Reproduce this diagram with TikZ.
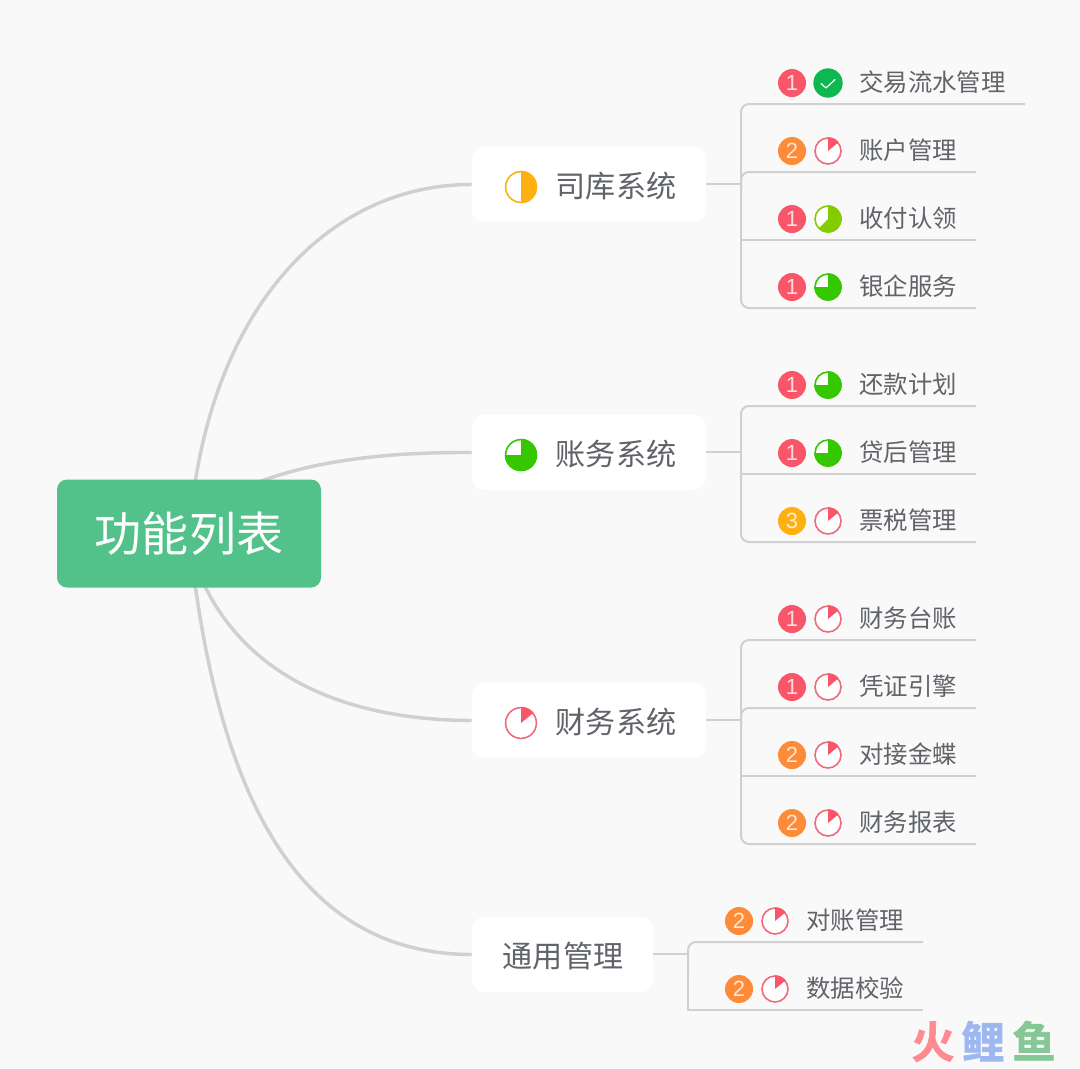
\documentclass[tikz,border=0pt]{standalone}
\usepackage{fontspec}
\setmainfont{Liberation Sans}
\newfontfamily\cjk{Noto Sans CJK SC}
\newfontfamily\cjkb[FakeBold=1.5]{Noto Sans CJK SC Bold}
\definecolor{bgc}{HTML}{F9F9F9}
\definecolor{linec}{HTML}{D0D0D0}
\definecolor{txtc}{HTML}{606368}
\definecolor{rootc}{HTML}{52C28A}
\definecolor{redc}{HTML}{F9566A}
\definecolor{ringred}{HTML}{EE6A7C}
\definecolor{orangec}{HTML}{FD8B37}
\definecolor{yellowc}{HTML}{FDB010}
\definecolor{checkc}{HTML}{0CB84F}
\definecolor{limec}{HTML}{84CC00}
\definecolor{greenc}{HTML}{35C800}
\definecolor{wmred}{HTML}{FF8A8F}
\definecolor{wmblue}{HTML}{9DB8F0}
\definecolor{wmgreen}{HTML}{85C795}
\pgfdeclarelayer{under}
\pgfsetlayers{under,main}
\tikzset{
  x=0.75pt,y=-0.75pt,
  boxn/.style={fill=white,rounded corners=9pt,inner sep=0pt,minimum width=#1*0.75pt,minimum height=56.25pt},
  rootn/.style={fill=rootc,rounded corners=7.5pt,inner sep=0pt,minimum width=198pt,minimum height=81pt,text=white,font=\cjk\fontsize{35.3}{35.3}\selectfont},
  leaft/.style={anchor=base west,inner sep=0pt,text=txtc,font=\cjk\fontsize{18.3}{18.3}\selectfont},
  brt/.style={anchor=base west,inner sep=0pt,text=txtc,font=\cjk\fontsize{22.6}{22.6}\selectfont},
  badge/.style={circle,fill=#1,inner sep=0pt,minimum size=21pt,text=white!80!#1,font=\fontsize{16.5}{16.5}\selectfont},
  ring/.style={circle,draw=#1,line width=1.2pt,fill=white,inner sep=0pt},
  main/.style={draw=linec,line width=2.6pt},
  thin/.style={draw=linec,line width=1.5pt},
  wm/.style={anchor=base west,inner sep=0pt,font=\cjkb\fontsize{32.5}{32.5}\selectfont},
}
% #1 name, #2 x, #3 y, #4 ring colour, #5 fill colour, #6 fraction, #7 radius in px
\newcommand{\pieicon}[7]{%
  \node[ring=#4,minimum size=#7*1.5pt-1.2pt] (#1) at (#2,#3) {};
  \fill[#5] (#2,#3) -- ++(0,-#7) arc[start angle=90,delta angle={-360*#6},radius=#7*0.75pt] -- cycle;
}
% #1 name, #2 x of badge, #3 y, #4 digit, #5 badge colour, #6 ring colour, #7 pie colour, #8 fraction, #9 text
\newcommand{\leafitem}[9]{%
  \node[badge=#5] (#1b) at (#2,#3) {#4};
  \pieicon{#1p}{#2+36}{#3}{#6}{#7}{#8}{13.8}
  \node[leaft] (#1t) at (#2+67,#3+8.5) {#9};
}
\begin{document}
\begin{tikzpicture}
\useasboundingbox (0,0) rectangle (1080,1068);
\begin{pgfonlayer}{under}
\fill[bgc] (0,0) rectangle (1080,1068);
\end{pgfonlayer}

% boxes
\node[rootn] (root) at (189,533.5) {功能列表};
\node[boxn=234] (b1) at (589,184.5) {};
\node[boxn=234] (b2) at (589,452.5) {};
\node[boxn=234] (b3) at (589,720.5) {};
\node[boxn=181] (b4) at (562.5,954.5) {};

% junctions and line ends
\coordinate (j1) at (741,184);
\coordinate (j2) at (741,452);
\coordinate (j3) at (741,719.5);
\coordinate (j4) at (688,953.5);

\coordinate (a1) at (1025,104);\coordinate (a2) at (976,172);\coordinate (a3) at (976,240);\coordinate (a4) at (976,308);
\coordinate (c1) at (976,406);\coordinate (c2) at (976,474);\coordinate (c3) at (976,542);
\coordinate (d1) at (976,640);\coordinate (d2) at (976,708);\coordinate (d3) at (976,776);\coordinate (d4) at (976,844);
\coordinate (e1) at (923,942);\coordinate (e2) at (923,1010);

% main curves, running in under the root box
\begin{pgfonlayer}{under}
\draw[main] ([xshift=4.5pt,yshift=-3pt]root.north) .. controls (225,290) and (340,184) .. (b1.west);
\draw[main] ([xshift=50pt,yshift=-3pt]root.north) .. controls (320,458) and (400,452) .. (b2.west);
\draw[main] ([xshift=11pt,yshift=3pt]root.south) .. controls (250,680) and (350,720) .. (b3.west);
\draw[main] ([xshift=4.5pt,yshift=3pt]root.south) .. controls (225,800) and (300,954) .. (b4.west);
\end{pgfonlayer}

% brackets
\draw[thin] (b1.east |- j1) -- (j1);
\draw[thin,rounded corners=6pt] (a1) -- (741,104) -- (741,308) -- (a4);
\draw[thin,rounded corners=6pt] (a2) -- (741,172) -- (741,190);
\draw[thin] (741,240) -- (a3);

\draw[thin] (b2.east |- j2) -- (j2);
\draw[thin,rounded corners=6pt] (c1) -- (741,406) -- (741,542) -- (c3);
\draw[thin] (741,474) -- (c2);

\draw[thin] (b3.east |- j3) -- (j3);
\draw[thin,rounded corners=6pt] (d1) -- (741,640) -- (741,844) -- (d4);
\draw[thin,rounded corners=6pt] (d2) -- (741,708) -- (741,726);
\draw[thin] (741,776) -- (d3);

\draw[thin] (b4.east |- j4) -- (j4);
\draw[thin,rounded corners=6pt] (e1) -- (688,942) -- (688,976);
\draw[thin] (688,970) -- (688,1010) -- (e2);

% branch contents
\pieicon{i1}{521}{187}{yellowc}{yellowc}{0.5}{16.2}
\node[brt] (t1) at (555.5,197) {司库系统};
\pieicon{i2}{521}{455}{greenc}{greenc}{0.75}{16.2}
\node[brt] (t2) at (555.5,465) {账务系统};
\pieicon{i3}{521}{723}{ringred}{redc}{0.14}{16.2}
\node[brt] (t3) at (555.5,733) {财务系统};
\node[brt] (t4) at (502.5,967) {通用管理};

% leaves
\node[badge=redc] (l1b) at (792,83) {1};
\node[circle,fill=checkc,inner sep=0pt,minimum size=22pt] (l1p) at (828,83) {};
\draw[white,line width=0.9pt,line cap=round,line join=round] (821,83.5) -- (826,88) -- (835,79.5);
\node[leaft] (l1t) at (859,91.5) {交易流水管理};
\leafitem{l2}{792}{151}{2}{orangec}{ringred}{redc}{0.14}{账户管理}
\leafitem{l3}{792}{219}{1}{redc}{limec}{limec}{0.625}{收付认领}
\leafitem{l4}{792}{287}{1}{redc}{greenc}{greenc}{0.75}{银企服务}

\leafitem{l5}{792}{385}{1}{redc}{greenc}{greenc}{0.75}{还款计划}
\leafitem{l6}{792}{453}{1}{redc}{greenc}{greenc}{0.75}{贷后管理}
\leafitem{l7}{792}{521}{3}{yellowc}{ringred}{redc}{0.14}{票税管理}

\leafitem{l8}{792}{619}{1}{redc}{ringred}{redc}{0.14}{财务台账}
\leafitem{l9}{792}{687}{1}{redc}{ringred}{redc}{0.14}{凭证引擎}
\leafitem{l10}{792}{755}{2}{orangec}{ringred}{redc}{0.14}{对接金蝶}
\leafitem{l11}{792}{823}{2}{orangec}{ringred}{redc}{0.14}{财务报表}

\leafitem{l12}{739}{921}{2}{orangec}{ringred}{redc}{0.14}{对账管理}
\leafitem{l13}{739}{989}{2}{orangec}{ringred}{redc}{0.14}{数据校验}

% watermark
\node[wm,text=wmred] (w1) at (911,1058) {火};
\node[wm,text=wmblue] (w2) at (961,1058) {鲤};
\node[wm,text=wmgreen] (w3) at (1012,1058) {鱼};
\end{tikzpicture}
\end{document}
